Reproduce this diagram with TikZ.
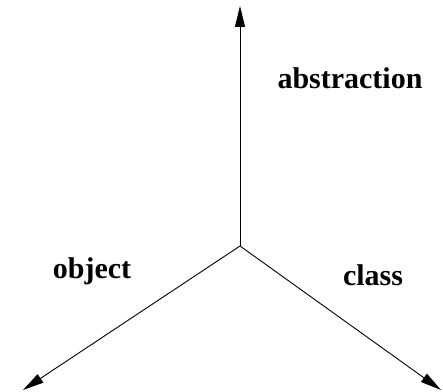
\documentclass[tikz,border=0pt]{standalone}
\usepackage{fontspec}
\setmainfont{Liberation Serif}
\usepackage{tikz}
\usetikzlibrary{arrows.meta}

\tikzset{
    axis/.style={black, line width=0.9pt, -{Triangle[length=21pt,width=10pt]}},
    lbl/.style={font=\fontsize{30}{36}\selectfont\bfseries, inner sep=0pt}
}

\begin{document}
\begin{tikzpicture}[x=1pt,y=1pt]

    \useasboundingbox (0,0) rectangle (443,391);

    \coordinate (O) at (240,145);

    %% Directions
    \coordinate (Up) at (240,385);
    \coordinate (Left) at (23,1);
    \coordinate (Right) at (441,1);

    %% --- Axes ---
    \draw[axis] (O) -- (Up);
    \draw[axis] (O) -- (Left);
    \draw[axis] (O) -- (Right);

    %% Labels
    \node[lbl] (abstr) at (350,313) {abstraction};
    \node[lbl] (obj) at (92,120) {object};
    \node[lbl] (cls) at (373,116) {class};

\end{tikzpicture}
\end{document}
